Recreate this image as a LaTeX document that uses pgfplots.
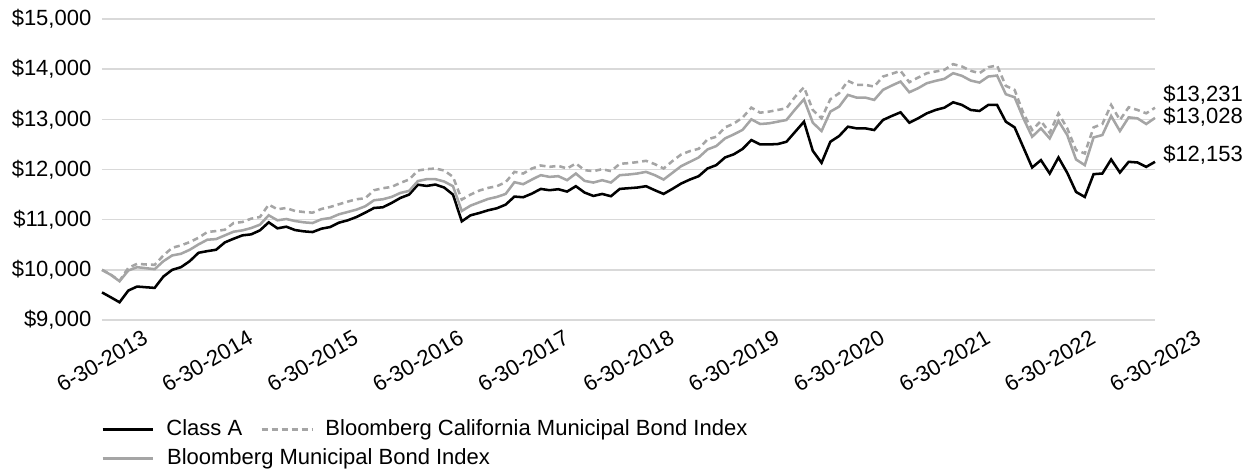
\documentclass[border=0pt]{standalone}
\usepackage{fontspec}
\setmainfont{Liberation Sans}
\usepackage{pgfplots}
\usepackage{pgfplotstable}
\pgfplotsset{compat=1.18}
\definecolor{lgray}{RGB}{165,165,165}
\definecolor{gridgray}{RGB}{217,217,217}

\pgfplotstableread{
i a ca mu
0 9550 10000 10000
1 9453 9905 9900
2 9353 9780 9773
3 9587 10040 9987
4 9667 10120 10053
5 9653 10107 10033
6 9640 10100 10013
7 9867 10287 10173
8 10000 10440 10287
9 10053 10487 10320
10 10173 10553 10400
11 10340 10640 10507
12 10373 10753 10600
13 10400 10773 10613
14 10547 10800 10687
15 10620 10933 10760
16 10687 10953 10787
17 10707 11020 10833
18 10787 11053 10900
19 10947 11300 11087
20 10827 11207 10987
21 10860 11233 11013
22 10793 11173 10973
23 10767 11153 10947
24 10753 11140 10933
25 10820 11213 11007
26 10853 11253 11033
27 10940 11307 11107
28 10987 11360 11153
29 11053 11407 11200
30 11140 11427 11267
31 11233 11587 11387
32 11247 11627 11407
33 11333 11653 11453
34 11433 11733 11533
35 11500 11800 11573
36 11697 11980 11770
37 11673 12007 11807
38 11700 12020 11807
39 11640 11980 11760
40 11500 11853 11667
41 10967 11400 11173
42 11087 11500 11280
43 11133 11580 11347
44 11187 11633 11413
45 11227 11667 11453
46 11300 11747 11513
47 11460 11953 11747
48 11447 11920 11707
49 11520 12020 11800
50 11613 12080 11887
51 11587 12053 11853
52 11607 12073 11867
53 11560 12020 11787
54 11667 12120 11920
55 11540 11987 11773
56 11473 11967 11740
57 11513 12007 11787
58 11467 11967 11740
59 11613 12113 11887
60 11627 12127 11900
61 11640 12147 11920
62 11667 12173 11953
63 11587 12107 11887
64 11513 12020 11800
65 11613 12167 11933
66 11720 12300 12067
67 11800 12367 12153
68 11867 12413 12240
69 12020 12600 12400
70 12087 12653 12467
71 12240 12840 12620
72 12303 12915 12700
73 12410 13035 12790
74 12587 13233 13000
75 12500 13133 12907
76 12500 13153 12920
77 12507 13187 12953
78 12553 13220 12987
79 12753 13453 13200
80 12953 13640 13400
81 12373 13187 12933
82 12133 13020 12767
83 12553 13400 13153
84 12667 13520 13253
85 12853 13767 13487
86 12820 13687 13433
87 12820 13687 13433
88 12787 13653 13387
89 12987 13853 13587
90 13067 13907 13673
91 13140 13967 13753
92 12933 13740 13540
93 13020 13833 13620
94 13120 13920 13720
95 13187 13953 13767
96 13233 13987 13807
97 13340 14100 13920
98 13287 14053 13867
99 13187 13967 13773
100 13167 13920 13733
101 13287 14040 13853
102 13287 14073 13873
103 12953 13667 13500
104 12840 13587 13440
105 12440 13120 13020
106 12040 12787 12653
107 12187 12967 12820
108 11920 12733 12620
109 12240 13120 12967
110 11933 12820 12687
111 11553 12387 12200
112 11453 12320 12087
113 11907 12840 12640
114 11920 12907 12687
115 12200 13287 13067
116 11940 12987 12767
117 12153 13240 13040
118 12140 13187 13020
119 12053 13120 12907
120 12153 13231 13028
}\datatable

\begin{document}
\begin{tikzpicture}[font=\fontsize{16.5bp}{19.8bp}\selectfont]
\path[use as bounding box] (-76.5bp,-115.5bp) rectangle (864bp,240bp);
\begin{axis}[
  at={(0,0)}, anchor=south west,
  scale only axis,
  width=789.75bp, height=225.75bp,
  xmin=0, xmax=120, ymin=9000, ymax=15000,
  scaled y ticks=false, scaled x ticks=false,
  axis line style={draw=none},
  major tick length=0pt,
  ymajorgrids,
  grid style={color=gridgray, line width=1.1bp},
  ytick={9000,10000,11000,12000,13000,14000,15000},
  yticklabels={{\$9,000},{\$10,000},{\$11,000},{\$12,000},{\$13,000},{\$14,000},{\$15,000}},
  yticklabel shift=4.5bp,
  xtick={0,12,24,36,48,60,72,84,96,108,120},
  xticklabels={6-30-2013,6-30-2014,6-30-2015,6-30-2016,6-30-2017,6-30-2018,6-30-2019,6-30-2020,6-30-2021,6-30-2022,6-30-2023},
  xticklabel style={yshift=-31bp, rotate=30, anchor=center},
  clip=false,
  legend columns=2,
  legend cell align=left,
  legend image code/.code={\draw[#1] (0bp,0bp) -- (38bp,0bp);},
  legend style={
    at={(axis description cs:0,0)}, anchor=north west,
    xshift=-0.75bp, yshift=-74.25bp,
    draw=none, fill=none, inner sep=0pt,
    nodes={inner sep=0pt, text height=12bp, text depth=3.5bp},
    row sep=6.25bp,
    /tikz/every odd column/.append style={column sep=9bp},
    /tikz/every even column/.append style={column sep=13.5bp},
  },
]
\addplot[black, line width=1.9bp] table[x=i, y=a] {\datatable};
\addlegendentry{Class A}
\addplot[lgray, line width=1.9bp, dash pattern=on 4.5bp off 3bp] table[x=i, y=ca] {\datatable};
\addlegendentry{Bloomberg California Municipal Bond Index}
\addplot[lgray, line width=1.9bp] table[x=i, y=mu] {\datatable};
\addlegendentry{\rlap{Bloomberg Municipal Bond Index}}
\node[anchor=base west, inner sep=0pt, xshift=6bp, yshift=4.5bp] at (axis cs:120,13231) {\$13,231};
\node[anchor=base west, inner sep=0pt, xshift=6bp, yshift=-4.5bp] at (axis cs:120,13028) {\$13,028};
\node[anchor=base west, inner sep=0pt, xshift=6bp] at (axis cs:120,12153) {\$12,153};
\end{axis}
\end{tikzpicture}
\end{document}
